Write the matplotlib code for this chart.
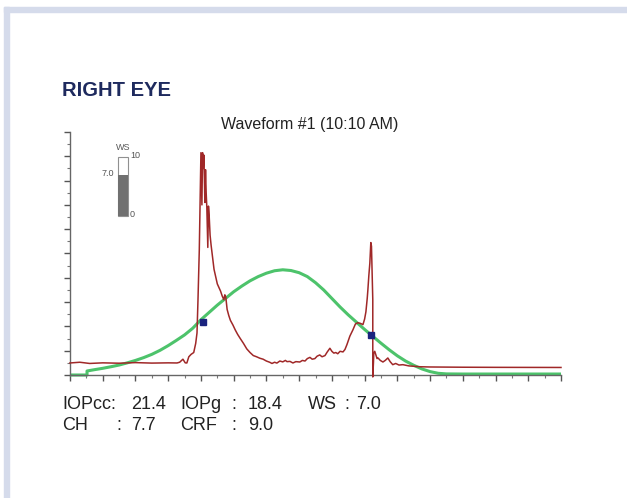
import matplotlib
matplotlib.use("Agg")
import matplotlib.pyplot as plt
from matplotlib import patches as mpatches

plt.rcParams["font.family"] = ["Liberation Sans", "DejaVu Sans"]

W, H = 627, 498
NAVY, RED, GREEN, GAUGE = "#1E2A5E", "#A02828", "#4DC36B", "#707070"

# applanation signal (red), x in major-tick units, y in minor-tick units
red_x = [0.00, 0.30, 0.60, 1.00, 1.50, 2.00, 2.50, 3.00, 3.27, 3.35, 3.45, 3.52,
         3.57, 3.63, 3.70, 3.78, 3.84, 3.88, 3.91, 3.95, 3.98, 4.00, 4.02, 4.03,
         4.05, 4.07, 4.09, 4.11, 4.12, 4.14, 4.16, 4.18, 4.20, 4.21, 4.23, 4.25,
         4.28, 4.31, 4.35, 4.40, 4.45, 4.50, 4.55, 4.60, 4.65, 4.70, 4.73, 4.76,
         4.80, 4.85, 4.90, 4.98, 5.05, 5.12, 5.19, 5.30, 5.40, 5.50, 5.60, 5.70,
         5.80, 5.90, 6.00, 6.10, 6.17, 6.25, 6.32, 6.41, 6.50, 6.58, 6.63, 6.72,
         6.81, 6.90, 7.02, 7.10, 7.18, 7.25, 7.33, 7.40, 7.48, 7.55, 7.63, 7.70,
         7.79, 7.86, 7.94, 8.00, 8.06, 8.12, 8.18, 8.25, 8.34, 8.40, 8.46, 8.55,
         8.64, 8.72, 8.79, 8.87, 8.95, 9.00, 9.04, 9.08, 9.10, 9.13, 9.16, 9.19,
         9.21, 9.22, 9.24, 9.25, 9.25, 9.27, 9.28, 9.31, 9.34, 9.38, 9.41, 9.48,
         9.56, 9.63, 9.71, 9.78, 9.86, 9.95, 10.05, 10.17, 10.35, 10.50, 10.69, 11.00,
         12.00, 13.00, 15.00]
red_y = [0.99, 1.05, 0.95, 1.00, 0.97, 1.02, 0.98, 1.00, 0.99, 1.05, 1.30, 1.00,
         0.99, 1.50, 1.70, 1.85, 2.60, 3.46, 6.18, 10.30, 15.00, 18.30, 15.50, 14.00,
         18.30, 17.00, 18.10, 15.20, 14.20, 16.90, 15.00, 13.80, 11.50, 10.50, 13.90, 13.20,
         11.50, 10.70, 9.80, 8.70, 8.10, 7.50, 7.20, 6.90, 6.50, 6.20, 6.60, 6.40,
         5.40, 4.90, 4.50, 4.10, 3.70, 3.35, 3.05, 2.60, 2.15, 1.85, 1.60, 1.50,
         1.38, 1.30, 1.15, 1.05, 0.95, 1.05, 0.98, 1.15, 1.08, 1.20, 1.10, 1.12,
         0.99, 1.10, 1.07, 1.20, 1.15, 1.35, 1.45, 1.30, 1.35, 1.55, 1.65, 1.50,
         1.60, 1.90, 2.20, 1.95, 1.80, 1.85, 1.75, 1.95, 1.90, 2.10, 2.50, 3.20,
         3.70, 4.20, 4.30, 4.25, 4.15, 4.60, 5.20, 6.30, 7.00, 8.20, 9.20, 10.90,
         10.60, 9.50, 7.00, 6.20, -0.16, 1.00, 1.80, 1.95, 1.70, 1.35, 1.40, 1.20,
         1.07, 1.20, 1.40, 1.10, 0.85, 0.95, 0.82, 0.85, 0.75, 0.72, 0.68, 0.66,
         0.64, 0.63, 0.62]

# pressure curve (green)
green_x = [0.00, 0.52, 0.52, 0.75, 1.00, 1.25, 1.50, 1.75, 2.00, 2.25, 2.50, 2.75,
           3.00, 3.25, 3.50, 3.75, 4.00, 4.25, 4.50, 4.75, 5.00, 5.25, 5.50, 5.75,
           6.00, 6.25, 6.50, 6.75, 7.00, 7.25, 7.50, 7.75, 8.00, 8.25, 8.50, 8.75,
           9.00, 9.25, 9.50, 9.75, 10.00, 10.25, 10.50, 10.75, 11.00, 11.25, 11.50, 12.00,
           15.00]
green_y = [0.00, 0.00, 0.33, 0.44, 0.55, 0.68, 0.82, 1.00, 1.20, 1.43, 1.70, 2.03,
           2.42, 2.85, 3.30, 3.85, 4.55, 5.15, 5.75, 6.30, 6.85, 7.32, 7.75, 8.10,
           8.38, 8.58, 8.66, 8.60, 8.42, 8.10, 7.60, 7.00, 6.30, 5.60, 4.95, 4.35,
           3.75, 3.18, 2.62, 2.08, 1.58, 1.15, 0.80, 0.50, 0.28, 0.14, 0.09, 0.08,
           0.08]

# applanation points
p_x = [4.06, 9.19]
p_y = [4.37, 3.30]

ws_value, ws_max = 7.0, 10

line1 = ["IOPcc:", "21.4", "IOPg", ":", "18.4", "WS", ":", "7.0"]
line2 = ["CH", ":", "7.7", "CRF", ":", "9.0"]
line1_px = [62, 131, 180, 231, 248, 308, 344, 356]
line2_px = [62, 116, 131, 180, 231, 248]


def fx(px):
    return px / W


def fy(py):
    return 1 - py / H


fig = plt.figure(figsize=(W / 100, H / 100), dpi=100)

# light frame round the panel
frame = "#D5DBEB"
fig.patches.append(mpatches.Rectangle((fx(4), 0), fx(5), fy(7), color=frame,
                                      transform=fig.transFigure))
fig.patches.append(mpatches.Rectangle((fx(4), fy(12)), 1, 5 / H, color=frame,
                                      transform=fig.transFigure))

ax = fig.add_axes([fx(70), fy(375), fx(491), 243 / H])
ax.plot(green_x, green_y, color=GREEN, linewidth=2.2, zorder=2, clip_on=False,
        solid_capstyle="butt", solid_joinstyle="round")
ax.plot(red_x, red_y, color=RED, linewidth=1.1, zorder=3, clip_on=False)
ax.plot(p_x, p_y, linestyle="none", marker="s", markersize=5,
        color="#1A237E", zorder=4)

ax.set_xlim(0, 15)
ax.set_ylim(0, 20)
ax.set_xticks(range(0, 16))
ax.set_xticks([i + 0.5 for i in range(15)], minor=True)
ax.set_yticks(range(0, 21, 2))
ax.set_yticks(range(1, 20, 2), minor=True)
ax.tick_params(which="major", length=4, width=1, color="#555555",
               labelbottom=False, labelleft=False)
ax.tick_params(which="minor", length=2.2, width=0.8, color="#777777")
for s in ("top", "right"):
    ax.spines[s].set_visible(False)
for s in ("left", "bottom"):
    ax.spines[s].set_color("#666666")
    ax.spines[s].set_linewidth(1)

# WS gauge
gx = fig.add_axes([fx(118), fy(216), fx(10), 59 / H])
gx.bar([0], [ws_max], width=1, color="white", edgecolor="#909090",
       linewidth=0.8, clip_on=False)
gx.bar([0], [ws_value], width=1, color=GAUGE, linewidth=0, clip_on=False)
gx.set_xlim(-0.5, 0.5)
gx.set_ylim(0, ws_max)
gx.axis("off")
gtxt = dict(fontsize=6.5, color="#555555", va="center")
fig.text(fx(123), fy(148), "WS", ha="center", **gtxt)
fig.text(fx(130), fy(155), f"{ws_max}", ha="left", **gtxt)
fig.text(fx(114), fy(174), f"{ws_value:.1f}", ha="right", **gtxt)
fig.text(fx(130), fy(214), "0", ha="left", **gtxt)

fig.text(fx(62), fy(90), "RIGHT EYE", fontsize=14.5, weight="bold",
         color=NAVY, ha="left", va="center")
fig.text(fx(310), fy(124), "Waveform #1 (10:10 AM)", fontsize=11.5,
         color="#222222", ha="center", va="center")

for s, px in zip(line1, line1_px):
    fig.text(fx(px), fy(404), s, fontsize=13, color="#222222", ha="left", va="center")
for s, px in zip(line2, line2_px):
    fig.text(fx(px), fy(425), s, fontsize=13, color="#222222", ha="left", va="center")

fig.savefig("out.png", dpi=100)
